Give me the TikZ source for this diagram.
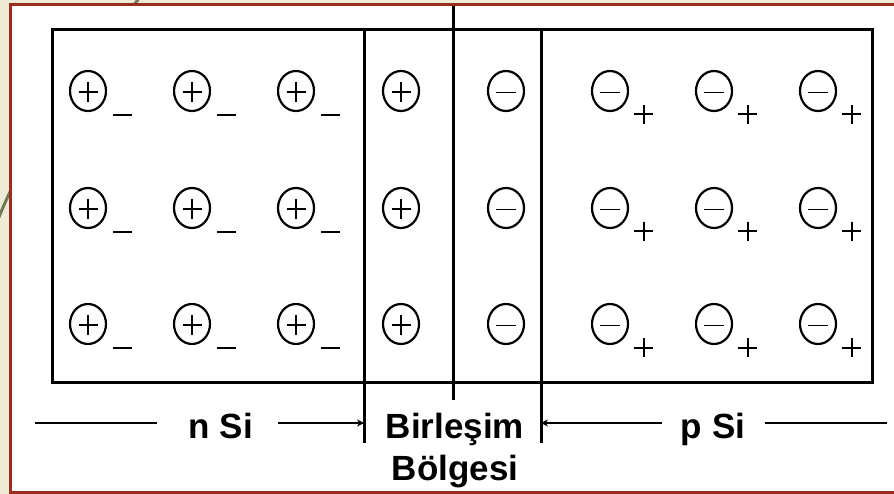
\documentclass[tikz,border=0pt]{standalone}
\usepackage{fontspec}
\setmainfont{Liberation Sans}
\usetikzlibrary{shapes.geometric,arrows.meta}
\definecolor{pagebg}{HTML}{EEEAD6}
\definecolor{framered}{HTML}{9A2E1E}
\definecolor{olivestroke}{HTML}{6E7B55}
\begin{document}
\begin{tikzpicture}[x=1pt,y=-1pt,
  ion/.style={ellipse, draw, line width=2.2pt, minimum width=36pt, minimum height=40pt, inner sep=0pt},
  donor/.style={ion, path picture={\draw[line width=1.5pt, shift={(path picture bounding box.center)}]
      (-9.5,1) -- (9.5,1) (0,-9) -- (0,11);}},
  acceptor/.style={ion, path picture={\draw[line width=1.5pt, shift={(path picture bounding box.center)}]
      (-10,1.5) -- (10,1.5);}},
  signline/.style={line width=2pt},
  edge/.style={line width=3pt},
  lead/.style={line width=2.6pt},
  arr/.style={lead, -{Stealth[length=7pt,width=7pt]}},
  lbl/.style={font=\fontsize{35}{40}\selectfont\bfseries, inner sep=0pt, anchor=base}]

\useasboundingbox (0,0) rectangle (894,494);

% slide background, decorative stroke and framed white panel
\fill[pagebg] (0,0) rectangle (894,494);
\draw[olivestroke, line width=3pt] (140,-3) .. controls (70,90) and (25,150) .. (-3,222);
\fill[white] (10.5,5) rectangle (900,492);
\draw[framered, line width=3pt] (900,5) -- (10.5,5) -- (10.5,492) -- (900,492);

% crystal block
\draw[edge] (52,30) rectangle (872,382);

% junction boundaries
\coordinate (jlt) at (364,30);
\coordinate (jlb) at (364,443);
\coordinate (jrt) at (541,30);
\coordinate (jrb) at (541,443);
\coordinate (jmt) at (453,6);
\coordinate (jmb) at (453,400);
\draw[edge] (jlt) -- (jlb);
\draw[edge] (jrt) -- (jrb);
\draw[edge] (jmt) -- (jmb);

% ions
\foreach \r/\y in {1/91,2/208,3/324} {
  \foreach \c/\x in {1/88,2/192,3/296} {
    \node[donor] (n\r\c) at (\x,\y) {};
    \draw[signline] ([shift={(25,24)}]n\r\c.center) -- ++(19,0);
  }
  \node[donor] (dp\r) at (401,\y) {};
  \node[acceptor] (dn\r) at (506,\y) {};
  \foreach \c/\x in {1/610,2/714,3/818} {
    \node[acceptor] (p\r\c) at (\x,\y) {};
    \draw[signline] ([shift={(33.5,14)}]p\r\c.center) -- ++(0,19)
                    ([shift={(24,23.5)}]p\r\c.center) -- ++(19,0);
  }
}

% region labels
\node[lbl] (nsi) at (221,438) {n Si};
\node[lbl] (psi) at (713,438) {p Si};
\node[lbl] (birl) at (455,438) {Birleşim};
\node[lbl] (bolg) at (455,480) {Bölgesi};

\coordinate (nfar) at (35,423);
\coordinate (pfar) at (887,423);
\draw[lead] (nfar) -- ([xshift=-32pt]nsi.west |- nfar);
\draw[arr] ([xshift=25pt]nsi.east |- nfar) -- (jlb |- nfar);
\draw[arr] ([xshift=-19pt]psi.west |- pfar) -- (jrb |- pfar);
\draw[lead] ([xshift=20pt]psi.east |- pfar) -- (pfar);
\end{tikzpicture}
\end{document}
